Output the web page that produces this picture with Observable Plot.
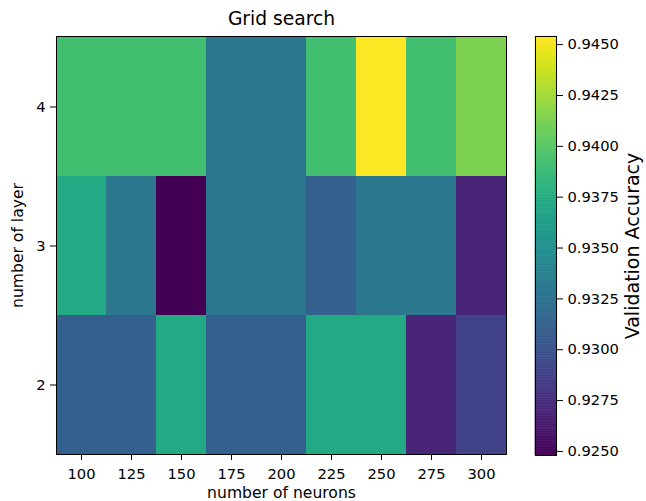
<!DOCTYPE html>
<html>
<head>
<meta charset="utf-8">
<script src="https://cdn.jsdelivr.net/npm/d3@7"></script>
<script src="https://cdn.jsdelivr.net/npm/@observablehq/plot@0.6"></script>
<style>
  body { margin: 0; background: white; }
  #wrap { display: flex; width: 646px; height: 501px; }
  svg { background: white; }
</style>
</head>
<body>
<div id="wrap"></div>
<script>
const neurons = [100, 125, 150, 175, 200, 225, 250, 275, 300];
const layers = [4, 3, 2];
const acc4 = [0.9392, 0.9392, 0.9392, 0.9330, 0.9330, 0.9392, 0.9454, 0.9392, 0.9413];
const acc3 = [0.9372, 0.9330, 0.9248, 0.9330, 0.9330, 0.9310, 0.9330, 0.9330, 0.9269];
const acc2 = [0.9310, 0.9310, 0.9372, 0.9310, 0.9310, 0.9372, 0.9372, 0.9269, 0.9289];
const colorTicks = [0.9250, 0.9275, 0.9300, 0.9325, 0.9350, 0.9375, 0.9400, 0.9425, 0.9450];

const rows = {4: acc4, 3: acc3, 2: acc2};
const cells = [];
for (const l of layers) neurons.forEach((n, i) => cells.push({neurons: String(n), layer: String(l), acc: rows[l][i]}));
const extent = d3.extent(cells, d => d.acc);

const font = "DejaVu Sans, sans-serif";
const tickFont = 14.7;

const main = Plot.plot({
  width: 520,
  height: 501,
  marginLeft: 56,
  marginRight: 14,
  marginTop: 36,
  marginBottom: 47,
  style: {fontFamily: font, fontSize: tickFont + "px", color: "black", background: "white"},
  x: {type: "band", domain: neurons.map(String), padding: 0},
  y: {type: "band", domain: layers.map(String), padding: 0},
  color: {type: "linear", scheme: "viridis", domain: extent},
  marks: [
    Plot.cell(cells, {x: "neurons", y: "layer", fill: "acc", inset: 0}),
    Plot.frame({stroke: "black", strokeWidth: 1}),
    Plot.axisX({tickSize: 6, tickPadding: 8, fontSize: tickFont, label: null}),
    Plot.axisY({tickSize: 6, tickPadding: 5, fontSize: tickFont, label: null}),
    Plot.axisX({ticks: [], tickSize: 0, fontSize: 15.6, label: "number of neurons", labelAnchor: "center", labelOffset: 43}),
    Plot.axisY({ticks: [], tickSize: 0, fontSize: 15.6, label: "number of layer", labelAnchor: "center", labelOffset: 45}),
    Plot.text(["Grid search"], {frameAnchor: "top", lineAnchor: "middle", dy: -17, fontSize: 18.7, fill: "black"})
  ]
});

const nStripes = 256;
const stripes = d3.range(nStripes).map(i => {
  const a = extent[0] + (extent[1] - extent[0]) * i / nStripes;
  const b = extent[0] + (extent[1] - extent[0]) * (i + 1) / nStripes;
  return {y1: a, y2: b, v: (a + b) / 2};
});

const bar = Plot.plot({
  width: 126,
  height: 501,
  marginLeft: 15,
  marginRight: 90,
  marginTop: 36,
  marginBottom: 46,
  style: {fontFamily: font, fontSize: tickFont + "px", color: "black", background: "white"},
  x: {domain: [0, 1], axis: null},
  y: {domain: extent, ticks: colorTicks, tickFormat: d3.format(".4f")},
  color: {type: "linear", scheme: "viridis", domain: extent},
  marks: [
    Plot.rect(stripes, {x1: 0, x2: 1, y1: "y1", y2: "y2", fill: "v", stroke: "v", strokeWidth: 0.6, inset: 0}),
    Plot.frame({stroke: "black", strokeWidth: 1}),
    Plot.axisY(colorTicks, {anchor: "right", tickSize: 6, tickPadding: 5, fontSize: tickFont, tickFormat: d3.format(".4f"), label: null}),
    Plot.text(["Validation Accuracy"], {frameAnchor: "right", textAnchor: "middle", rotate: -90, dx: 76, fontSize: 19, fill: "black"})
  ]
});

document.getElementById("wrap").append(main, bar);
</script>
</body>
</html>
